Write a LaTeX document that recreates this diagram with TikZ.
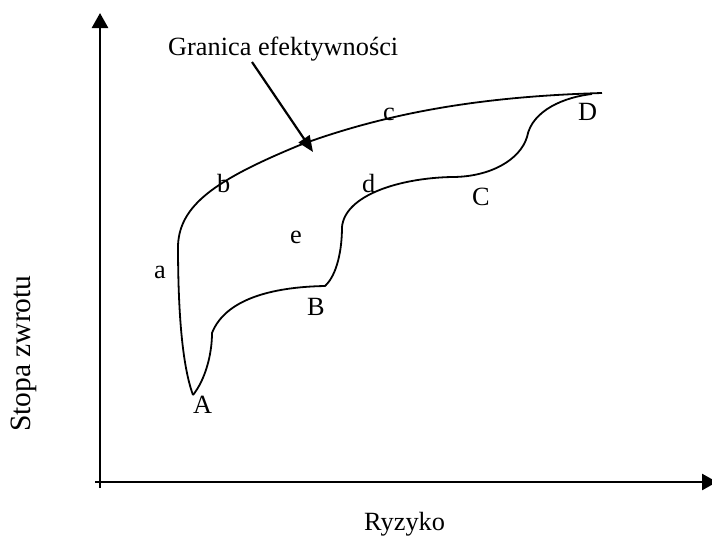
\documentclass[tikz,border=0pt]{standalone}
\usepackage{fontspec}
\setmainfont{Liberation Serif}
\usetikzlibrary{arrows.meta,positioning}
\tikzset{lbl/.style={inner sep=0pt,anchor=base west},axis/.style={line width=2.6pt,-{Triangle[length=15pt,width=16pt]}},edge/.style={line width=1.8pt,line join=round},arrow/.style={line width=2.2pt,-{Triangle[length=16pt,width=13pt]}},big/.style={font=\fontsize{26.3}{31}\selectfont},huge/.style={font=\fontsize{29.5}{35}\selectfont}}

\begin{document}
\begin{tikzpicture}[x=1pt,y=-1pt,big]
\useasboundingbox (0,0) rectangle (712,536);
% axes
\coordinate (o) at (100,482);
\coordinate (ytop) at (100,13);
\coordinate (xend) at (717,482);
\draw[axis] (100,488) -- (ytop);
\draw[axis] (95,482) -- (xend);
% points of the set
\coordinate (pA) at (193,395);
\coordinate (pB) at (325,286);
\coordinate (pC) at (452,177);
\coordinate (pD) at (592,94);
\coordinate (top) at (602,93);
% efficient frontier
\draw[edge] (pA) .. controls (182,365) and (178,310) .. (178,245)
  .. controls (180,205) and (215,180) .. (300,145)
  .. controls (400,108) and (500,96) .. (top);
% lower edge
\draw[edge] (pA) .. controls (205,380) and (212,355) .. (212,333)
  .. controls (225,300) and (270,287) .. (pB)
  .. controls (337,275) and (342,250) .. (342,227)
  .. controls (345,195) and (400,178) .. (pC)
  .. controls (490,177) and (520,160) .. (527,137)
  .. controls (532,110) and (565,97) .. (pD);
% labels
\node[lbl] (la) at (154,278) {a};
\node[lbl] (lb) at (217,192) {b};
\node[lbl] (lc) at (383,120) {c};
\node[lbl] (ld) at (362,192) {d};
\node[lbl] (le) at (290,243) {e};
\node[lbl] (nA) at (193,413) {A};
\node[lbl] (nB) at (307,315) {B};
\node[lbl] (nC) at (472,205) {C};
\node[lbl] (nD) at (578,120) {D};
\node[lbl] (gran) at (168,55) {Granica efektywności};
\node[lbl] (ryz) at (364,530) {Ryzyko};
\node[lbl,huge,rotate=90] (stopa) at (30,432) {Stopa zwrotu};
\coordinate (tail) at (252,62);
\coordinate (hit) at (313,152);
\draw[arrow] (tail) -- (hit);
\end{tikzpicture}
\end{document}
